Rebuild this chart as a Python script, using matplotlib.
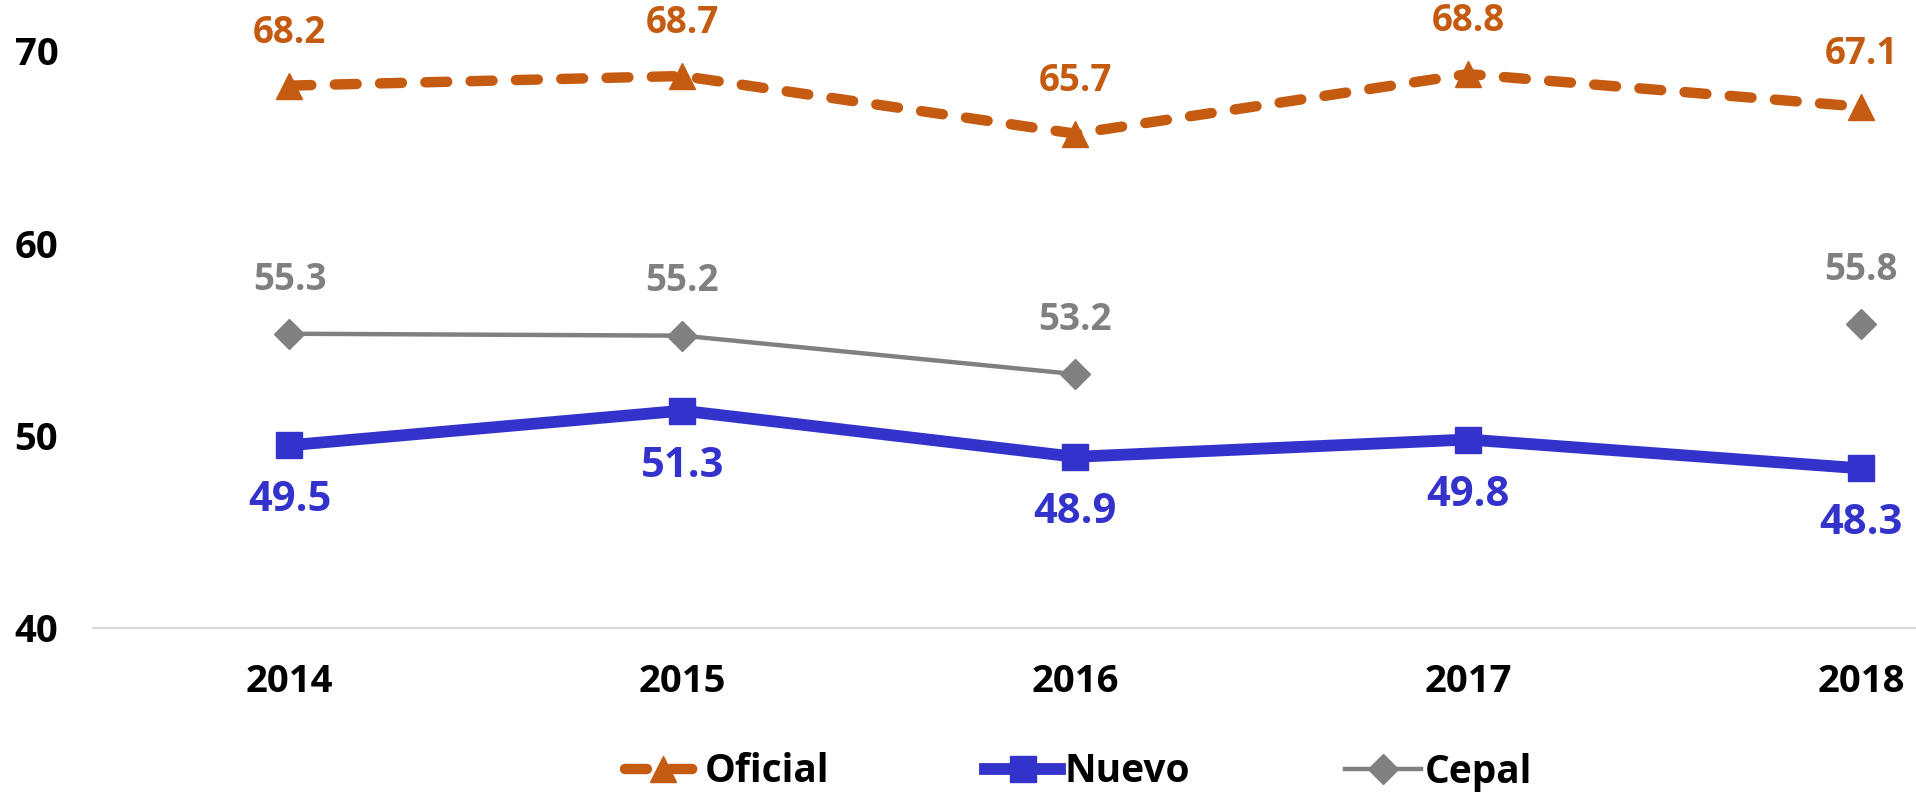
import numpy as np
import matplotlib
matplotlib.use("Agg")
import matplotlib.pyplot as plt

# data
years = ["2014", "2015", "2016", "2017", "2018"]
oficial = [68.2, 68.7, 65.7, 68.8, 67.1]
nuevo = [49.5, 51.3, 48.9, 49.8, 48.3]
cepal = [55.3, 55.2, 53.2, np.nan, 55.8]

ORANGE = "#C55A11"
BLUE = "#3333CC"
GREY = "#808080"

plt.rcParams["font.family"] = ["Open Sans", "DejaVu Sans"]
plt.rcParams["font.weight"] = "bold"

fig = plt.figure(figsize=(19.16, 7.95), dpi=100)
ax = fig.add_axes([93 / 1916, 1 - 628 / 795, 1 - 93 / 1916, (628 - 51) / 795])

x = np.arange(len(years))
l1, = ax.plot(x, oficial, color=ORANGE, lw=7.5, ls=(0, (2.1, 2.25)), dash_capstyle="round",
              marker="^", ms=19, clip_on=False, label="Oficial")
l2, = ax.plot(x, nuevo, color=BLUE, lw=8.5, marker="s", ms=19, clip_on=False, label="Nuevo")
l3, = ax.plot(x, cepal, color=GREY, lw=3.2, marker="D", ms=15, clip_on=False, label="Cepal")

for xi, v in zip(x, oficial):
    ax.annotate(f"{v:.1f}", (xi, v), xytext=(0, 38), textcoords="offset points",
                ha="center", va="center", color=ORANGE, fontsize=26.5, fontweight="bold")
for xi, v in zip(x, cepal):
    if np.isnan(v):
        continue
    ax.annotate(f"{v:.1f}", (xi, v), xytext=(0, 39), textcoords="offset points",
                ha="center", va="center", color=GREY, fontsize=26.5, fontweight="bold")
for xi, v in zip(x, nuevo):
    ax.annotate(f"{v:.1f}", (xi, v), xytext=(0, -40), textcoords="offset points",
                ha="center", va="center", color=BLUE, fontsize=30, fontweight="bold")

ax.set_xlim(-0.5, 4.14)
ax.set_ylim(40, 70)
ax.set_yticks([40, 50, 60, 70])
ax.set_xticks(x)
ax.set_xticklabels(years)
ax.tick_params(axis="both", length=0, labelsize=27.5)
ax.tick_params(axis="x", pad=25)
ax.tick_params(axis="y", pad=25)
for lab in ax.get_xticklabels() + ax.get_yticklabels():
    lab.set_fontweight("bold")

for s in ["top", "right", "left"]:
    ax.spines[s].set_visible(False)
ax.spines["bottom"].set_color("#D9D9D9")
ax.spines["bottom"].set_linewidth(1.5)

leg = fig.legend(handles=[l1, l2, l3], loc="center", bbox_to_anchor=(0.563, 1 - 772 / 795),
                 ncol=3, frameon=False, handlelength=1.95, columnspacing=4.0,
                 handletextpad=0.1, prop={"weight": "bold", "size": 28})

fig.savefig("out.png", dpi=100)
